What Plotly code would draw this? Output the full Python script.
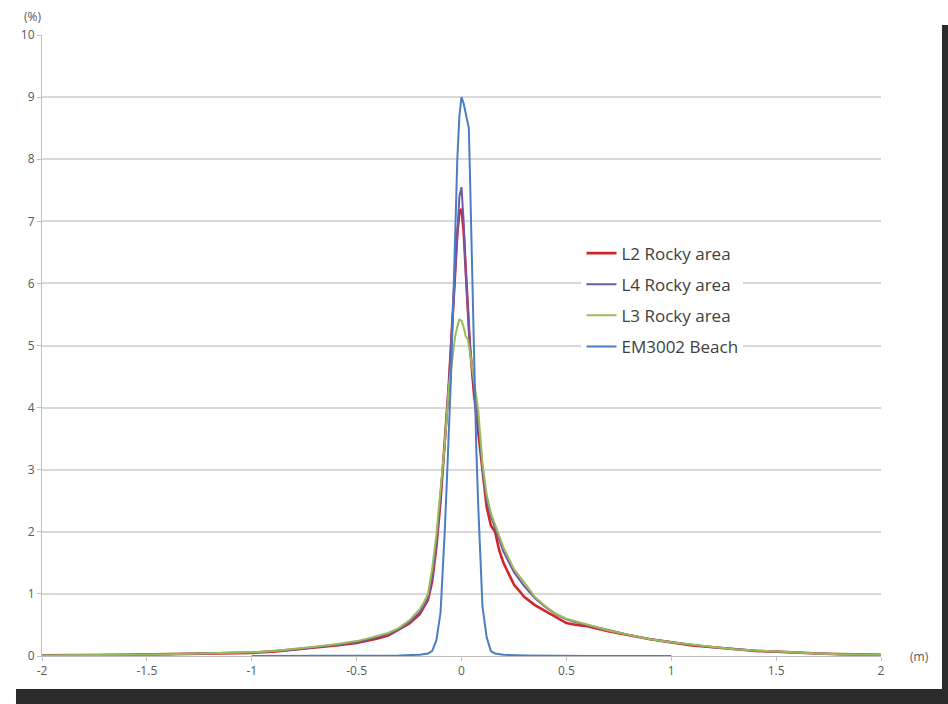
import plotly.graph_objects as go

# ---- data ----
x_broad = [-2.0, -1.8, -1.6, -1.4, -1.2, -1.0, -0.9, -0.8, -0.7, -0.6, -0.5, -0.45, -0.4,
           -0.35, -0.3, -0.25, -0.2, -0.18, -0.16, -0.14, -0.12, -0.1, -0.08, -0.06, -0.04,
           -0.03, -0.02, -0.01, 0.0, 0.01, 0.02, 0.03, 0.04, 0.06, 0.08, 0.1, 0.12, 0.14,
           0.16, 0.18, 0.2, 0.25, 0.3, 0.35, 0.4, 0.45, 0.5, 0.55, 0.6, 0.7, 0.8, 0.9, 1.0,
           1.1, 1.2, 1.3, 1.4, 1.5, 1.6, 1.7, 1.8, 1.9, 2.0]

l2_rocky = [0.01, 0.01, 0.02, 0.03, 0.04, 0.05, 0.07, 0.10, 0.13, 0.17, 0.21, 0.24, 0.28,
            0.33, 0.42, 0.52, 0.67, 0.78, 0.90, 1.20, 1.75, 2.50, 3.40, 4.40, 5.60,
            6.30, 6.80, 7.15, 7.20, 6.85, 6.20, 5.50, 5.00, 4.20, 3.60, 2.90, 2.40, 2.10,
            2.00, 1.70, 1.50, 1.15, 0.95, 0.82, 0.72, 0.62, 0.53, 0.50, 0.48, 0.40, 0.33, 0.27, 0.22,
            0.17, 0.14, 0.11, 0.08, 0.07, 0.05, 0.04, 0.03, 0.02, 0.02]

l4_rocky = [0.01, 0.01, 0.02, 0.03, 0.04, 0.06, 0.08, 0.10, 0.14, 0.18, 0.22, 0.26, 0.30,
            0.35, 0.43, 0.54, 0.70, 0.80, 0.93, 1.25, 1.80, 2.55, 3.40, 4.40, 5.60,
            6.40, 7.00, 7.40, 7.55, 7.00, 6.20, 5.50, 5.00, 4.30, 3.80, 3.00, 2.50, 2.25,
            2.05, 1.85, 1.68, 1.35, 1.12, 0.93, 0.79, 0.67, 0.59, 0.54, 0.50, 0.41, 0.34, 0.27, 0.22,
            0.18, 0.14, 0.11, 0.09, 0.07, 0.05, 0.04, 0.03, 0.03, 0.02]

l3_rocky = [0.01, 0.01, 0.02, 0.03, 0.04, 0.06, 0.08, 0.11, 0.15, 0.19, 0.24, 0.28, 0.32,
            0.37, 0.45, 0.57, 0.75, 0.86, 1.00, 1.40, 1.95, 2.70, 3.40, 4.35, 4.90,
            5.15, 5.30, 5.42, 5.40, 5.30, 5.15, 5.10, 4.90, 4.40, 3.95, 3.10, 2.60, 2.30,
            2.10, 1.93, 1.75, 1.40, 1.18, 0.95, 0.80, 0.68, 0.60, 0.55, 0.50, 0.41, 0.34, 0.27, 0.22,
            0.18, 0.14, 0.11, 0.09, 0.07, 0.05, 0.04, 0.03, 0.03, 0.02]

x_beach = [-1.0, -0.6, -0.4, -0.3, -0.2, -0.16, -0.14, -0.12, -0.1, -0.09, -0.08, -0.07,
           -0.06, -0.05, -0.04, -0.03, -0.02, -0.01, 0.0, 0.01, 0.02, 0.03, 0.035, 0.04,
           0.05, 0.06, 0.07, 0.08, 0.09, 0.1, 0.12, 0.14, 0.16, 0.2, 0.3, 0.4, 0.6, 1.0]
em3002_beach = [0.0, 0.0, 0.01, 0.01, 0.02, 0.04, 0.08, 0.25, 0.70, 1.30, 2.00, 2.80,
                3.60, 4.50, 5.60, 7.00, 8.00, 8.70, 9.00, 8.90, 8.75, 8.60, 8.50, 7.80,
                6.30, 4.50, 3.40, 2.40, 1.50, 0.80, 0.30, 0.08, 0.04, 0.02, 0.01, 0.005, 0.0, 0.0]

x_ticks = [-2, -1.5, -1, -0.5, 0, 0.5, 1, 1.5, 2]
y_ticks = list(range(0, 11))

series = [
    ("L2 Rocky area", x_broad, l2_rocky, "#D0262B", 2.6),
    ("L4 Rocky area", x_broad, l4_rocky, "#6F58A8", 2),
    ("L3 Rocky area", x_broad, l3_rocky, "#9BBB59", 2),
    ("EM3002 Beach", x_beach, em3002_beach, "#4A7EC4", 2),
]

fig = go.Figure()
for i, (name, xs, ys, col, w) in enumerate(series):
    fig.add_trace(go.Scatter(x=xs, y=ys, mode="lines", name=name,
                             legendgroup=f"g{i}",
                             line=dict(color=col, width=w)))

FONT = "Open Sans"
fig.update_layout(
    width=948, height=704,
    margin=dict(l=42, r=67, t=35, b=48),
    paper_bgcolor="white", plot_bgcolor="white",
    font=dict(family=FONT, color="#595959", size=12),
    showlegend=True,
    legend=dict(x=0.643, y=0.677, xanchor="left", yanchor="top",
                bgcolor="white", borderwidth=0,
                font=dict(family=FONT, size=17, color="#404040"),
                tracegroupgap=6, itemwidth=30),
    xaxis=dict(range=[-2, 2], tickvals=x_ticks,
               ticktext=[f"{v:g}" for v in x_ticks],
               showgrid=False, zeroline=False,
               showline=True, linecolor="#BFBFBF", linewidth=1,
               ticks="outside", ticklen=4, tickcolor="#BFBFBF",
               tickfont=dict(size=12, color="#595959")),
    yaxis=dict(range=[0, 10], tickvals=y_ticks,
               showgrid=True, gridcolor="#D9D9D9", gridwidth=1.5,
               zeroline=False,
               showline=True, linecolor="#BFBFBF", linewidth=1,
               ticks="outside", ticklen=4, tickcolor="#BFBFBF",
               tickfont=dict(size=12, color="#595959")),
    annotations=[
        dict(text="(%)", xref="paper", yref="paper", x=-0.011, y=1.029,
             xanchor="center", yanchor="middle", showarrow=False,
             font=dict(size=12, color="#595959")),
        dict(text="(m)", xref="paper", yref="paper", x=1.032, y=0.0,
             xanchor="left", yanchor="middle", showarrow=False,
             font=dict(size=12, color="#595959")),
    ],
    shapes=[
        dict(type="rect", xref="paper", yref="paper", x0=1.0727, x1=1.1,
             y0=-0.1, y1=1.016, fillcolor="#2B2B2B", line=dict(width=0), layer="above"),
        dict(type="rect", xref="paper", yref="paper", x0=-0.031, x1=1.1,
             y0=-0.1, y1=-0.0531, fillcolor="#2B2B2B", line=dict(width=0), layer="above"),
    ],
)

fig.write_html("out.html")
